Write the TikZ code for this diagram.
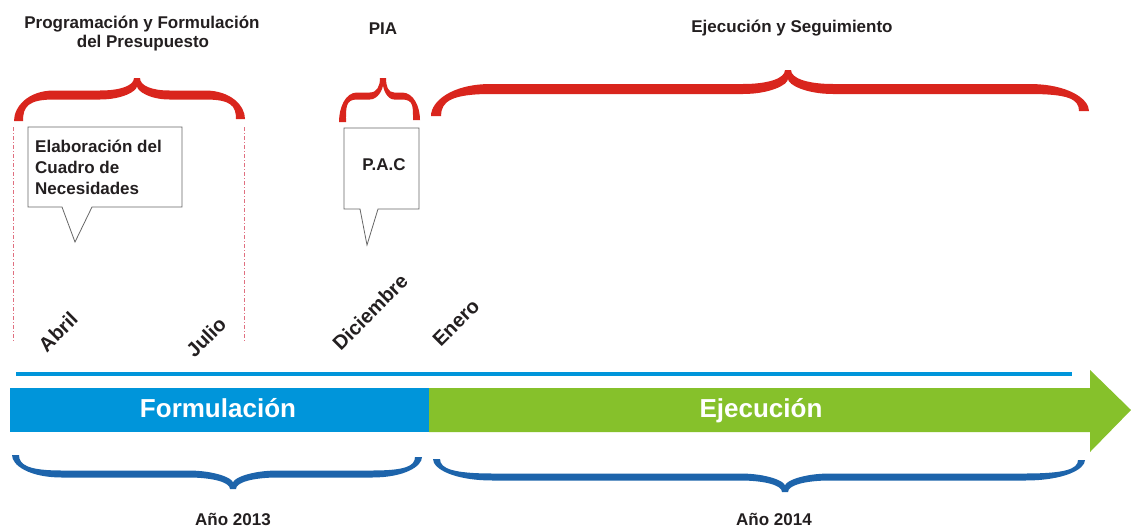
\documentclass[tikz,border=0pt]{standalone}
\usepackage{fontspec}
\setmainfont{Liberation Sans}
\definecolor{bred}{HTML}{D9251D}
\definecolor{bblue}{HTML}{0095DA}
\definecolor{bgreen}{HTML}{86C12B}
\definecolor{dblue}{HTML}{1D64AB}
\definecolor{txtcol}{HTML}{231F20}
\definecolor{dotcol}{HTML}{E07080}
\definecolor{boxcol}{HTML}{666666}
% #1 xL, #2 xR, #3 yEndL, #4 yEndR, #5 arm y, #6 xTip, #7 yTip, #8 thickness, #9 end-curve length
\newcommand\mybrace[9]{%
 \pgfmathsetmacro\ya{(#5)-(#8)/2}%
 \pgfmathsetmacro\yb{(#5)+(#8)/2}%
 \pgfmathsetmacro\bl{min(0.3*((#6)-(#1)),45)}%
 \pgfmathsetmacro\br{min(0.3*((#2)-(#6)),45)}%
 \pgfmathsetmacro\ymidL{(#3)+0.55*((#5)-(#3))}%
 \pgfmathsetmacro\ymidR{(#4)+0.55*((#5)-(#4))}%
 \pgfmathsetmacro\ytc{(#7)+0.45*((#5)-(#7))}%
 \pgfmathsetmacro\ynotch{(#7)+0.9*(#8)}%
 \pgfmathsetmacro\ync{\ynotch+0.3*((#5)-(#7))}%
 \fill[fill=\bcol] (#1,#3)
 .. controls (#1,\ymidL) and ({#1+0.35*#9},\ya) .. ({#1+#9},\ya)
 -- ({#6-\bl},\ya)
 .. controls ({#6-0.45*\bl},\ya) and ({#6-3},\ytc) .. ({#6-3},#7)
 -- ({#6+3},#7)
 .. controls ({#6+3},\ytc) and ({#6+0.45*\br},\ya) .. ({#6+\br},\ya)
 -- ({#2-#9},\ya)
 .. controls ({#2-0.35*#9},\ya) and (#2,\ymidR) .. (#2,#4)
 -- ({#2-#8},#4)
 .. controls ({#2-#8},\ymidR) and ({#2-0.35*#9},\yb) .. ({#2-#9},\yb)
 -- ({#6+\br},\yb)
 .. controls ({#6+0.4*\br},\yb) and (#6,\ync) .. (#6,\ynotch)
 .. controls (#6,\ync) and ({#6-0.4*\bl},\yb) .. ({#6-\bl},\yb)
 -- ({#1+#9},\yb)
 .. controls ({#1+0.35*#9},\yb) and ({#1+#8},\ymidL) .. ({#1+#8},#3)
 -- cycle;}
\begin{document}
\begin{tikzpicture}[x=1pt,y=-1pt,
  txt/.style={font=\bfseries\fontsize{17}{20}\selectfont,text=txtcol,inner sep=0pt},
  boxtxt/.style={font=\bfseries\fontsize{17}{20}\selectfont,text=txtcol,inner sep=0pt},
  month/.style={font=\bfseries\fontsize{20}{24}\selectfont,text=txtcol,inner sep=0pt,rotate=45},
  bartxt/.style={font=\bfseries\fontsize{26}{30}\selectfont,text=white,inner sep=0pt},
  callout/.style={draw=boxcol,line width=0.8pt,fill=white,line join=miter},
  dotline/.style={draw=dotcol,line width=0.7pt,dash pattern=on 4pt off 2pt on 1pt off 2pt}]
\useasboundingbox (0,0) rectangle (1131,527);
\fill[white] (0,0) rectangle (1131,527);

% titles
\node[txt,anchor=base] (t1a) at (142,29) {Programación y Formulación};
\node[txt,anchor=base] (t1b) at (143,48) {del Presupuesto};
\node[txt,anchor=base] (t2) at (383,35) {PIA};
\node[txt,anchor=base] (t3) at (792,33) {Ejecución y Seguimiento};

% red braces
\def\bcol{bred}
\mybrace{14}{245}{121}{119}{95}{137}{78}{9}{40}
\mybrace{339}{420}{122}{120}{96}{383}{78}{7}{18}
\mybrace{431}{1089}{116}{111}{89}{788}{70}{10}{60}

% dotted guides
\coordinate (d1a) at (13,127); \coordinate (d1b) at (13,342);
\coordinate (d2a) at (244,127); \coordinate (d2b) at (244,342);
\draw[dotline] (d1a) -- (d1b);
\draw[dotline] (d2a) -- (d2b);

% callouts
\draw[callout] (28,127) -- (182,127) -- (182,207) -- (92,207) -- (75,242) -- (62,207) -- (28,207) -- cycle;
\node[boxtxt,anchor=base west] (b1a) at (35,152) {Elaboración del};
\node[boxtxt,anchor=base west] (b1b) at (35,173) {Cuadro de};
\node[boxtxt,anchor=base west] (b1c) at (35,194) {Necesidades};
\draw[callout] (344,128) -- (419,128) -- (419,209) -- (378,209) -- (367,245) -- (360,209) -- (344,209) -- cycle;
\node[boxtxt,anchor=base] (pac) at (384,170) {P.A.C};

% months
\node[month] (abril) at (58,332) {Abril};
\node[month] (julio) at (206,337) {Julio};
\node[month] (dic) at (370,312) {Diciembre};
\node[month] (enero) at (456,323) {Enero};

% timeline
\coordinate (la) at (16,374); \coordinate (lb) at (1072,374);
\draw[bblue,line width=4pt] (la) -- (lb);
\fill[bblue] (10,388) rectangle (429,432);
\fill[bgreen] (429,388) -- (1090,388) -- (1090,370) -- (1131,410) -- (1090,452) -- (1090,432) -- (429,432) -- cycle;
\node[bartxt,anchor=base] (form) at (218,417) {Formulación};
\node[bartxt,anchor=base] (ejec) at (761,417) {Ejecución};

% bottom braces
\def\bcol{dblue}
\begin{scope}[yscale=-1]
\mybrace{12}{422}{-455}{-457}{-474}{233}{-489}{7}{50}
\mybrace{433}{1085}{-459}{-460}{-477}{785}{-492}{7}{60}
\end{scope}
\node[txt,anchor=base] (y13) at (233,525) {Año 2013};
\node[txt,anchor=base] (y14) at (774,525) {Año 2014};
\end{tikzpicture}
\end{document}
